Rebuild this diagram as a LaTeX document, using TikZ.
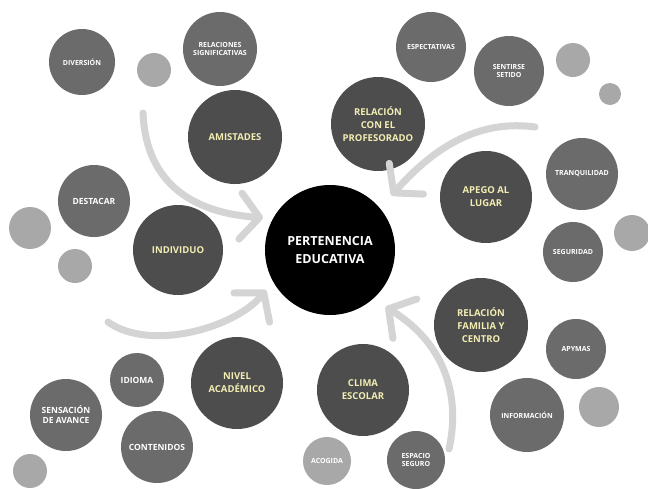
\documentclass[tikz,border=0pt]{standalone}
\usepackage{fontspec}
\setmainfont{Open Sans}
\usetikzlibrary{arrows.meta}

\definecolor{categorygray}{HTML}{4D4D4D}
\definecolor{facetgray}{HTML}{6B6B6B}
\definecolor{spotgray}{HTML}{A8A8A8}
\definecolor{flowgray}{HTML}{D4D4D4}
\definecolor{creamtext}{HTML}{F2EDB2}

\begin{document}
\begin{tikzpicture}[x=1pt, y=-1pt,
		category/.style={circle, fill=categorygray, text=creamtext, inner sep=0pt, align=center, font=\bfseries\fontsize{9.5}{13}\selectfont},
		facet/.style={circle, fill=facetgray, text=white, inner sep=0pt, align=center, font=\bfseries\fontsize{7}{8.5}\selectfont},
		bigfacet/.style={facet, font=\bfseries\fontsize{8.5}{10}\selectfont},
		spot/.style={circle, fill=spotgray, inner sep=0pt},
		flow/.style={draw=flowgray, line width=7pt, line cap=round, -{Straight Barb[length=19pt, width=46pt, round]}}]
			% Mind map of what builds educational belonging
			\useasboundingbox (0,0) rectangle (648,488);
			\clip (0,0) rectangle (648,488);
			\fill[white] (0,0) rectangle (648,488);
			
			\node[circle, fill=black, text=white, minimum size=130pt, inner sep=0pt, align=center, font=\bfseries\fontsize{12.5}{18}\selectfont] (pert) at (330,250) {PERTENENCIA\\EDUCATIVA};
			
			\node[category, minimum size=94pt] (amistades) at (235,137) {AMISTADES};
			\node[category, minimum size=94pt] (profesorado) at (378,124) {RELACIÓN\\CON EL\\PROFESORADO};
			\node[category, minimum size=92pt] (apego) at (486,197) {APEGO AL\\LUGAR};
			\node[category, minimum size=90pt] (individuo) at (178,250) {INDIVIDUO};
			\node[category, minimum size=94pt] (familia) at (481,325) {RELACIÓN\\FAMILIA Y\\CENTRO};
			\node[category, minimum size=92pt] (nivel) at (237,383) {NIVEL\\ACADÉMICO};
			\node[category, minimum size=92pt] (clima) at (363,390) {CLIMA\\ESCOLAR};
			
			\node[facet, minimum size=66pt] (diversion) at (82,62) {DIVERSIÓN};
			\node[facet, minimum size=74pt] (relaciones) at (220,49) {RELACIONES\\SIGNIFICATIVAS};
			\node[bigfacet, minimum size=72pt] (destacar) at (94,201) {DESTACAR};
			\node[facet, minimum size=70pt] (espectativas) at (431,47) {ESPECTATIVAS};
			\node[facet, minimum size=70pt] (sentirse) at (509,71) {SENTIRSE\\SETIDO};
			\node[facet, minimum size=72pt] (tranquilidad) at (582,174) {TRANQUILIDAD};
			\node[facet, minimum size=60pt] (seguridad) at (573,252) {SEGURIDAD};
			\node[facet, minimum size=60pt] (apymas) at (576,349) {APYMAS};
			\node[facet, minimum size=74pt] (informacion) at (527,415) {INFORMACIÓN};
			\node[facet, minimum size=58pt] (espacio) at (416,460) {ESPACIO\\SEGURO};
			\node[facet, fill=spotgray, minimum size=48pt] (acogida) at (327,461) {ACOGIDA};
			\node[bigfacet, minimum size=54pt] (idioma) at (137,380) {IDIOMA};
			\node[bigfacet, minimum size=72pt] (sensacion) at (66,415) {SENSACIÓN\\DE AVANCE};
			\node[bigfacet, minimum size=72pt] (contenidos) at (157,447) {CONTENIDOS};
			
			\node[spot, minimum size=34pt] (spota) at (154,70) {};
			\node[spot, minimum size=42pt] (spotb) at (30,228) {};
			\node[spot, minimum size=34pt] (spotc) at (75,266) {};
			\node[spot, minimum size=34pt] (spotd) at (30,471) {};
			\node[spot, minimum size=34pt] (spote) at (573,60) {};
			\node[spot, minimum size=22pt] (spotf) at (610,94) {};
			\node[spot, minimum size=36pt] (spotg) at (632,233) {};
			\node[spot, minimum size=40pt] (spoth) at (599,407) {};
			
			\coordinate (fromtl) at (143,113);
			\coordinate (fromtr) at (535,127);
			\coordinate (frombl) at (108,322);
			\coordinate (frombr) at (449,449);
			
			\draw[flow, shorten >=10pt] (fromtl) .. controls (146,185) and (195,213) .. (pert.151);
			\draw[flow, shorten >=17pt] (fromtr) .. controls (470,118) and (425,158) .. (pert.40);
			\draw[flow, shorten >=11pt] (frombl) .. controls (150,352) and (235,328) .. (pert.209);
			\draw[flow, shorten >=15pt] (frombr) .. controls (462,390) and (440,340) .. (pert.311);
		\end{tikzpicture}
\end{document}
